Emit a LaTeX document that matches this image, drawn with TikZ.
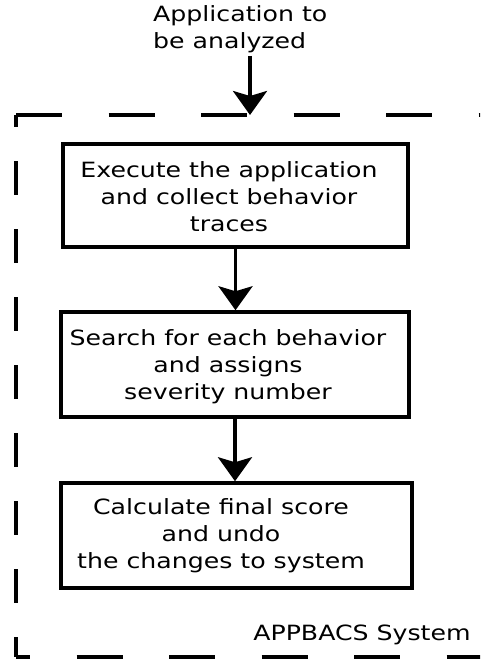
\documentclass[tikz,border=0pt]{standalone}
\usepackage{fontspec}
\setmainfont[FakeStretch=1.2]{DejaVu Sans}
\usetikzlibrary{arrows.meta}

\tikzset{
  stepbox/.style={draw, line width=3.5pt, inner sep=0pt},
  steptext/.style={align=center, inner sep=0pt, font=\fontsize{21}{27}\selectfont},
  flow/.style={line width=3.5pt, -{Stealth[length=24pt,width=34pt,inset=5pt]}},
  sysframe/.style={line width=4pt}
}

\begin{document}
\begin{tikzpicture}[x=1pt,y=-1pt]
 \useasboundingbox (0,0) rectangle (480,659);
 \clip (0,0) rectangle (480,659);

 % Input to the system
 \node[steptext, align=left, anchor=west, inner sep=3pt] (apptext) at (150,29) {Application to\\be analyzed};
 \coordinate (entry) at (250,115);

 % Dashed frame of the system (right side lies outside the picture)
 \coordinate (frameTL) at (16,115);
 \coordinate (frameTR) at (490,115);
 \coordinate (frameBL) at (16,657);
 \coordinate (frameBR) at (490,657);
 \draw[sysframe, dash pattern=on 46pt off 46.5pt] (frameTL) -- (frameTR);
 \draw[sysframe, dash pattern=on 34pt off 34pt, dash phase=22pt] (frameTL) -- (frameBL);
 \draw[sysframe, dash pattern=on 46pt off 46.5pt, dash phase=32pt] (frameBL) -- (frameBR);
 \node[steptext] (sysname) at (362,635) {APPBACS System};

 % The three steps
 \node[stepbox, minimum width=345pt, minimum height=103pt] (exec) at (235.5,195.5) {};
 \node[steptext] (exectext) at (229,197) {Execute the application\\and collect behavior\\traces};

 \node[stepbox, minimum width=348pt, minimum height=105pt] (search) at (235,364.5) {};
 \node[steptext] (searchtext) at (228,367) {Search for each behavior\\and assigns\\severity number};

 \node[stepbox, minimum width=351pt, minimum height=105pt] (score) at (236.5,535.5) {};
 \node[steptext] (scoretext) at (221,536) {Calculate final score\\and undo\\the changes to system};

 % Flow
 \draw[flow] (apptext.south -| entry) -- (entry);
 \draw[flow] (exec.south) -- (exec.south |- search.north);
 \draw[flow] (search.south) -- (search.south |- score.north);

\end{tikzpicture}
\end{document}
